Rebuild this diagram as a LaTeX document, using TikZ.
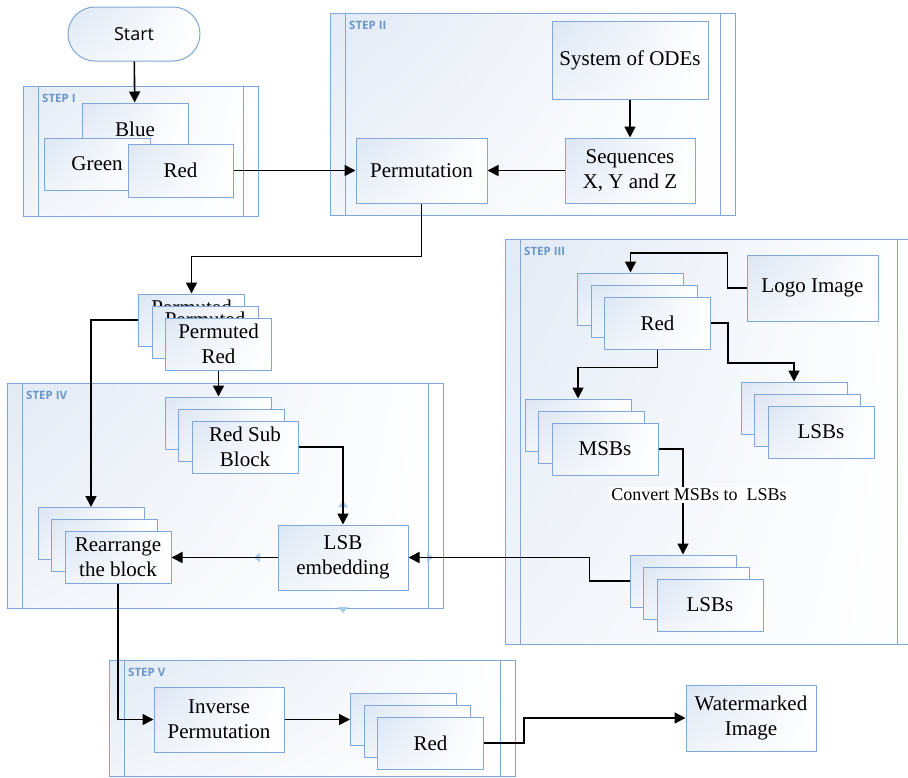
\documentclass[tikz,border=0pt]{standalone}
\usepackage{fontspec}
\setmainfont{Liberation Serif}
\newfontfamily\uisans{Open Sans}
\usepackage{xcolor}
\usepackage{tikz}
\usetikzlibrary{arrows.meta,positioning,calc,shadings}
\definecolor{boxline}{HTML}{7FA8D9}
\definecolor{boxtint}{HTML}{DCE6F4}
\definecolor{frametint}{HTML}{E2EAF5}
\definecolor{steptext}{HTML}{6A96C9}
\definecolor{handleblue}{HTML}{A7CDEB}

% stack of three blocks: [back text]{name}{front centre}{front text}
\newcommand{\blkstack}[4][]{%
  \node[blk] (#2a) at ($(#3)+(-27,-24)$) {#1};
  \node[blk] (#2b) at ($(#3)+(-13.5,-12)$) {#1};
  \node[blk] (#2) at (#3) {#4};
}
% step frame: {name}{x1}{y1}{x2}{y2}{label}
\newcommand{\stepframe}[6]{%
  \shade[upper left=frametint, upper right=white, lower left=white!55!frametint, lower right=white] (#2,#3) rectangle (#4,#5);
  \draw[frm] (#2,#3) rectangle (#4,#5);
  \draw[frm] ($(#2,#3)+(15,0)$) -- ($(#2,#5)+(15,0)$);
  \draw[frm] ($(#4,#3)+(-15,0)$) -- ($(#4,#5)+(-15,0)$);
  \node[steplbl] (#1) at ($(#2,#3)+(19,12)$) {#6};
}

\begin{document}
\begin{tikzpicture}[x=1pt,y=-1pt,
  every node/.style={font=\fontsize{21}{25}\selectfont, text=black, align=center, inner sep=0pt},
  blk/.style={draw=boxline, line width=1pt, upper left=boxtint, upper right=white,
    lower left=boxtint!45!white, lower right=white, minimum width=106pt, minimum height=52pt},
  frm/.style={draw=boxline, line width=1pt},
  steplbl/.style={font=\uisans\bfseries\fontsize{11.5}{13}\selectfont, text=steptext, anchor=west},
  flow/.style={line width=1.6pt, -{Triangle[length=11pt,width=11pt]}},
  handle/.style={fill=handleblue}]
  \useasboundingbox (0,0) rectangle (908,777);

  % frames
  \stepframe{st1}{23}{86}{258}{216}{STEP I}
  \stepframe{st2}{330}{13}{735}{215}{STEP II}
  \stepframe{st3}{505}{239}{912}{644}{STEP III}
  \stepframe{st4}{7}{383}{443}{608}{STEP IV}
  \stepframe{st5}{109}{660}{515}{776}{STEP V}

  % start and step I
  \node[blk, minimum width=132pt, minimum height=54pt, rounded corners=27pt,
    font=\uisans\fontsize{18}{22}\selectfont] (start) at (134,34) {Start};
  \node[blk] (blue) at (135,129) {Blue};
  \node[blk] (green) at (97,164) {Green};
  \node[blk, minimum width=105pt, minimum height=53pt] (red) at (180.5,170.5) {Red};

  % step II
  \node[blk, minimum width=156pt, minimum height=78pt] (ode) at (630,60) {System of ODEs};
  \node[blk, minimum width=130pt, minimum height=65pt] (seq) at (630,170.5) {Sequences\\X, Y and Z};
  \node[blk, minimum width=131pt, minimum height=65pt] (permu) at (421.5,170.5) {Permutation};

  % permuted blocks and step IV
  \blkstack[Permuted\\Red]{prm}{218.5,344}{Permuted\\Red}
  \blkstack{rsb}{245,447}{Red Sub\\Block}
  \blkstack{rrg}{118,557.5}{Rearrange\\the block}
  \node[blk, minimum width=130pt, minimum height=65pt] (emb) at (343,557.5) {LSB\\embedding};
  \fill[handle] (343,501) -- (338,507) -- (348,507) -- cycle;
  \fill[handle] (254,557.5) -- (260,552.5) -- (260,562.5) -- cycle;
  \fill[handle] (433,557.5) -- (427,552.5) -- (427,562.5) -- cycle;
  \fill[handle] (343,613) -- (338,607) -- (348,607) -- cycle;

  % step III
  \node[blk, minimum width=131pt, minimum height=66pt] (logo) at (812.5,288) {Logo Image};
  \blkstack{red3}{657.5,323}{Red}
  \blkstack{msb}{605,449}{MSBs}
  \blkstack{lsbr}{821,432}{LSBs}
  \blkstack{lsbb}{710,605}{LSBs}

  % step V
  \node[blk, minimum width=130pt, minimum height=65pt] (inv) at (219,719.5) {Inverse\\Permutation};
  \blkstack{red5}{430.5,743}{Red}
  \node[blk, minimum width=130pt, minimum height=66pt] (water) at (751,718) {Watermarked\\Image};

  % connectors
  \draw[flow] (start) -- (blue);
  \draw[flow] (red.east) -- (permu.west |- red.east);
  \draw[flow] (ode) -- (seq);
  \draw[flow] (seq) -- (permu);
  \draw[flow] (permu.south) -- ++(0,53) -| (prma.north);
  \draw[flow] (prma.west) -| (rrga.north);
  \draw[flow] (prm.south) -- (prm.south |- rsba.north);
  \draw[flow] (rsb.east) -| (emb.north);
  \draw[flow] (emb.west) -- (rrg.east);
  \draw[flow] (lsbba.west) -- ++(-40,0) |- (emb.east);
  \draw[flow] (rrg.south) |- (inv.west);
  \draw[flow] (inv.east) -- (inv.east -| red5a.west);
  \draw[flow] (red5.east) -- ++(40,0) |- (water.west);
  \draw[flow] (logo.west) -| ++(-19,-35) -| (red3a.north);
  \draw[flow] (red3.south) -- ++(0,18) -| (msba.north);
  \draw[flow] (red3.east) -| ++(17,40) -| (lsbra.north);
  \draw[flow] (msb.east) -| (lsbba.north);
  \node[fill=white, inner sep=2pt, font=\fontsize{18}{22}\selectfont] (cvt) at (699,495) {Convert MSBs to\ \ LSBs};
\end{tikzpicture}
\end{document}
